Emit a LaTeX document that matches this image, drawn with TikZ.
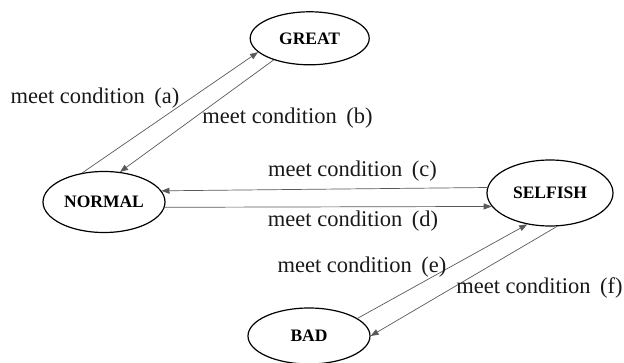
\documentclass[tikz,border=0pt]{standalone}
\usepackage{fontspec}
\setmainfont{Liberation Serif}
\usetikzlibrary{arrows.meta,shapes.geometric}
\newcommand{\mc}[1]{meet condition\hspace{0.42em}(#1)}
\begin{document}
\begin{tikzpicture}[x=1pt,y=1pt,
  state/.style={draw=black,line width=1.2pt,ellipse,inner sep=0pt,
    font=\fontsize{17.5}{19}\selectfont\bfseries},
  conn/.style={draw=black!65,line width=0.7pt,-{Triangle[length=8pt,width=6pt]}},
  lbl/.style={font=\fontsize{22.5}{24}\selectfont,text=black!90,inner sep=0pt}]
\useasboundingbox (0,-363) rectangle (624,0);
\node[state,minimum width=119pt,minimum height=53pt] (great) at (309.7,-38.3) {GREAT};
\node[state,minimum width=122pt,minimum height=61pt] (normal) at (104,-202) {NORMAL};
\node[state,minimum width=126pt,minimum height=66pt] (selfish) at (550,-193) {SELFISH};
\node[state,minimum width=122pt,minimum height=56pt] (bad) at (309,-336) {BAD};
\draw[conn] (normal.127) -- (great.195);
\draw[conn] (great.211) -- (normal.62);
\draw[conn] (selfish.175.6) -- (normal.11.7);
\draw[conn] (normal.-5.4) -- (selfish.193.6);
\draw[conn] (bad.20.2) -- (selfish.234.3);
\draw[conn] (selfish.-78.4) -- (bad.-0.9);
\node[lbl] (la) at (95,-98) {\mc{a}};
\node[lbl] (lb) at (287.5,-118) {\mc{b}};
\node[lbl] (lc) at (352.5,-171) {\mc{c}};
\node[lbl] (ld) at (353,-221) {\mc{d}};
\node[lbl] (le) at (362,-267) {\mc{e}};
\node[lbl] (lf) at (539.5,-288) {\mc{f}};
\end{tikzpicture}
\end{document}
